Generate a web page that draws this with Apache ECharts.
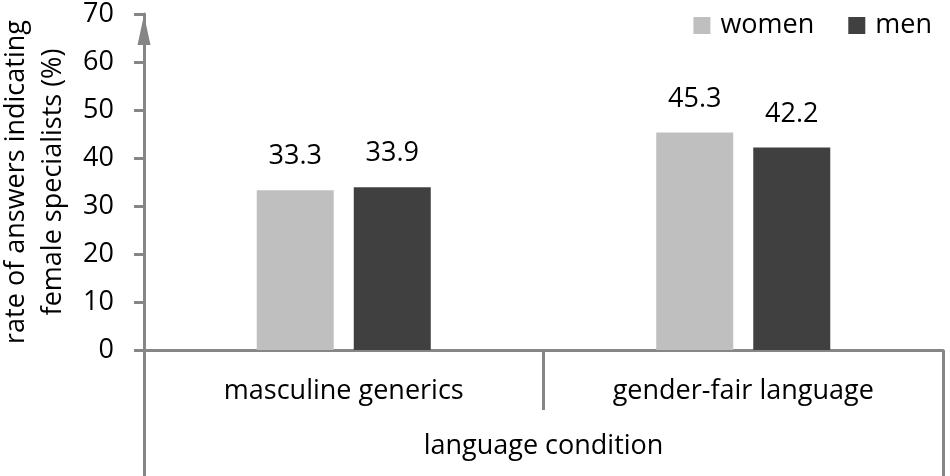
<!DOCTYPE html>
<html><head><meta charset="utf-8">
<script src="https://cdn.jsdelivr.net/npm/echarts@6/dist/echarts.min.js"></script>
<style>html,body{margin:0;padding:0;background:#fff}#c{width:950px;height:476px}</style>
</head><body><div id="c"></div>
<script>
const categories = ['masculine generics', 'gender-fair language'];
const outerCategories = ['language condition'];
const women = [33.3, 45.3];
const men = [33.9, 42.2];
const seriesNames = ['women', 'men'];
const yTitle = 'rate of answers indicating\nfemale specialists (%)';

const FONT = 'Open Sans';
const FS = 27;
const AX = '#868686';
const chart = echarts.init(document.getElementById('c'), null, {renderer: 'canvas'});
chart.setOption({
  animation: false,
  textStyle: {fontFamily: FONT},
  legend: {
    right: 13, top: 7, itemWidth: 17, itemHeight: 17, itemGap: 34,
    icon: 'rect',
    textStyle: {fontSize: FS, color: '#000', fontFamily: FONT, padding: [0, 0, 0, 5]},
    data: seriesNames
  },
  grid: {left: 144, right: 7, top: 14, bottom: 126, containLabel: false, outerBoundsMode: 'none'},
  xAxis: [{
    type: 'category', data: categories, position: 'bottom',
    axisLine: {lineStyle: {color: AX, width: 3}},
    axisTick: {show: true, length: 60, alignWithLabel: false, lineStyle: {color: AX, width: 3}},
    axisLabel: {fontSize: FS, color: '#000', margin: 28, fontFamily: FONT}
  }, {
    type: 'category', data: outerCategories, position: 'bottom',
    axisLine: {show: false},
    axisTick: {show: true, length: 130, alignWithLabel: false, lineStyle: {color: AX, width: 3}},
    axisLabel: {fontSize: FS, color: '#000', margin: 83, fontFamily: FONT}
  }],
  yAxis: {
    type: 'value', min: 0, max: 70, interval: 10,
    name: yTitle, nameLocation: 'middle', nameRotate: 90, nameGap: 69,
    nameTextStyle: {fontSize: FS, color: '#000', lineHeight: 37, fontFamily: FONT},
    axisLine: {show: true, lineStyle: {color: AX, width: 3}, symbol: ['none', 'triangle'], symbolSize: [13, 30], symbolOffset: [0, -16]},
    axisTick: {show: true, length: 10, inside: false, lineStyle: {color: AX, width: 3}},
    axisLabel: {fontSize: FS, color: '#000', margin: 30, fontFamily: FONT},
    splitLine: {show: false}
  },
  series: [{
    name: seriesNames[0], type: 'bar', data: women, barWidth: 77, barGap: '26%',
    itemStyle: {color: '#bfbfbf'},
    label: {show: true, position: 'top', distance: 20, fontSize: FS, color: '#000', fontFamily: FONT}
  }, {
    name: seriesNames[1], type: 'bar', data: men, barWidth: 77, barGap: '26%',
    itemStyle: {color: '#404040'},
    label: {show: true, position: 'top', distance: 20, fontSize: FS, color: '#000', fontFamily: FONT}
  }]
});
</script></body></html>
